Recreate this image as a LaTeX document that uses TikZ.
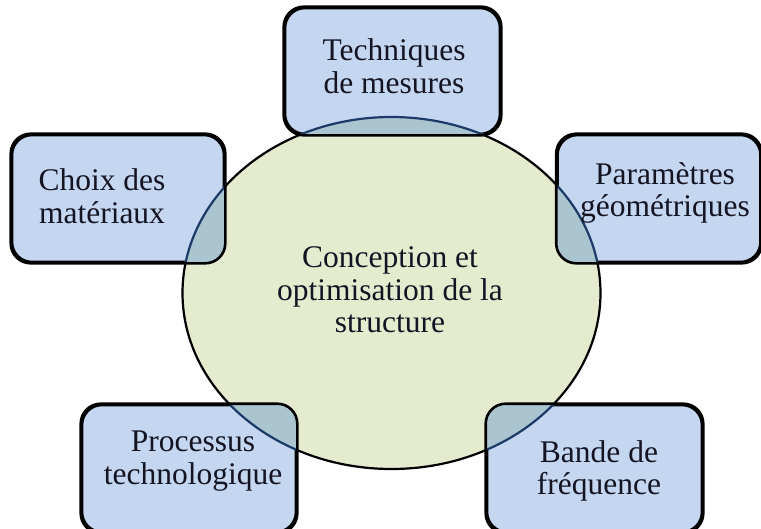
\documentclass[tikz,border=0pt]{standalone}
\usepackage{fontspec}
\setmainfont{Liberation Serif}
\usetikzlibrary{shapes.geometric}
\definecolor{boxblue}{RGB}{197,215,240}
\definecolor{ellgreen}{RGB}{228,235,207}
\definecolor{overlap}{RGB}{170,197,207}
\definecolor{navyline}{RGB}{28,58,104}
\definecolor{txtcol}{RGB}{20,20,35}
\tikzset{
  cardbox/.style={draw=black, line width=2.6pt, rounded corners=20pt, fill=boxblue, inner sep=0pt},
  bigell/.style={ellipse, draw=black, line width=2.2pt, fill=ellgreen, minimum width=418pt, minimum height=352pt, inner sep=0pt},
  lbl/.style={align=center, font=\fontsize{31.5pt}{32.5pt}\selectfont, text=txtcol, inner sep=0pt}
}
\begin{document}
\begin{tikzpicture}[x=1pt,y=-1pt]
\useasboundingbox (0,0) rectangle (761,528);
\clip (0,0) rectangle (761,528);
\fill[white] (0,0) rectangle (761,528);
% central ellipse
\node[bigell] (ell) at (391.5,293) {};
% boxes
\newcommand{\cardat}[5]{%
  \node[cardbox, minimum width=#4pt, minimum height=#5pt] (#1) at (#2,#3) {};
  \begin{scope}
    \clip[rounded corners=20pt] (#1.south west) rectangle (#1.north east);
    \fill[overlap] (ell.center) ellipse [x radius=209pt, y radius=176pt];
    \draw[navyline, line width=2.2pt] (ell.center) ellipse [x radius=209pt, y radius=176pt];
  \end{scope}
  \draw[line width=2.6pt, rounded corners=20pt] (#1.south west) rectangle (#1.north east);
}
\cardat{techbox}{392.5}{71}{215}{126}
\cardat{choixbox}{118}{198.5}{212}{127}
\cardat{parambox}{659}{198.5}{203}{127}
\cardat{procbox}{189}{468.5}{214}{127}
\cardat{bandebox}{594.5}{468.5}{215}{127}
% texts
\node[lbl] (techT) at (394,66) {Techniques\\de mesures};
\node[lbl] (choixT) at (102,196) {Choix des\\matériaux};
\node[lbl] (paramT) at (665,193) {Paramètres\\géométriques};
\node[lbl] (procT) at (193,461) {Processus\\technologique};
\node[lbl] (bandeT) at (599,471) {Bande de\\fréquence};
\node[lbl] (ellT) at (390,290) {Conception et\\optimisation de la\\structure};
\end{tikzpicture}
\end{document}
